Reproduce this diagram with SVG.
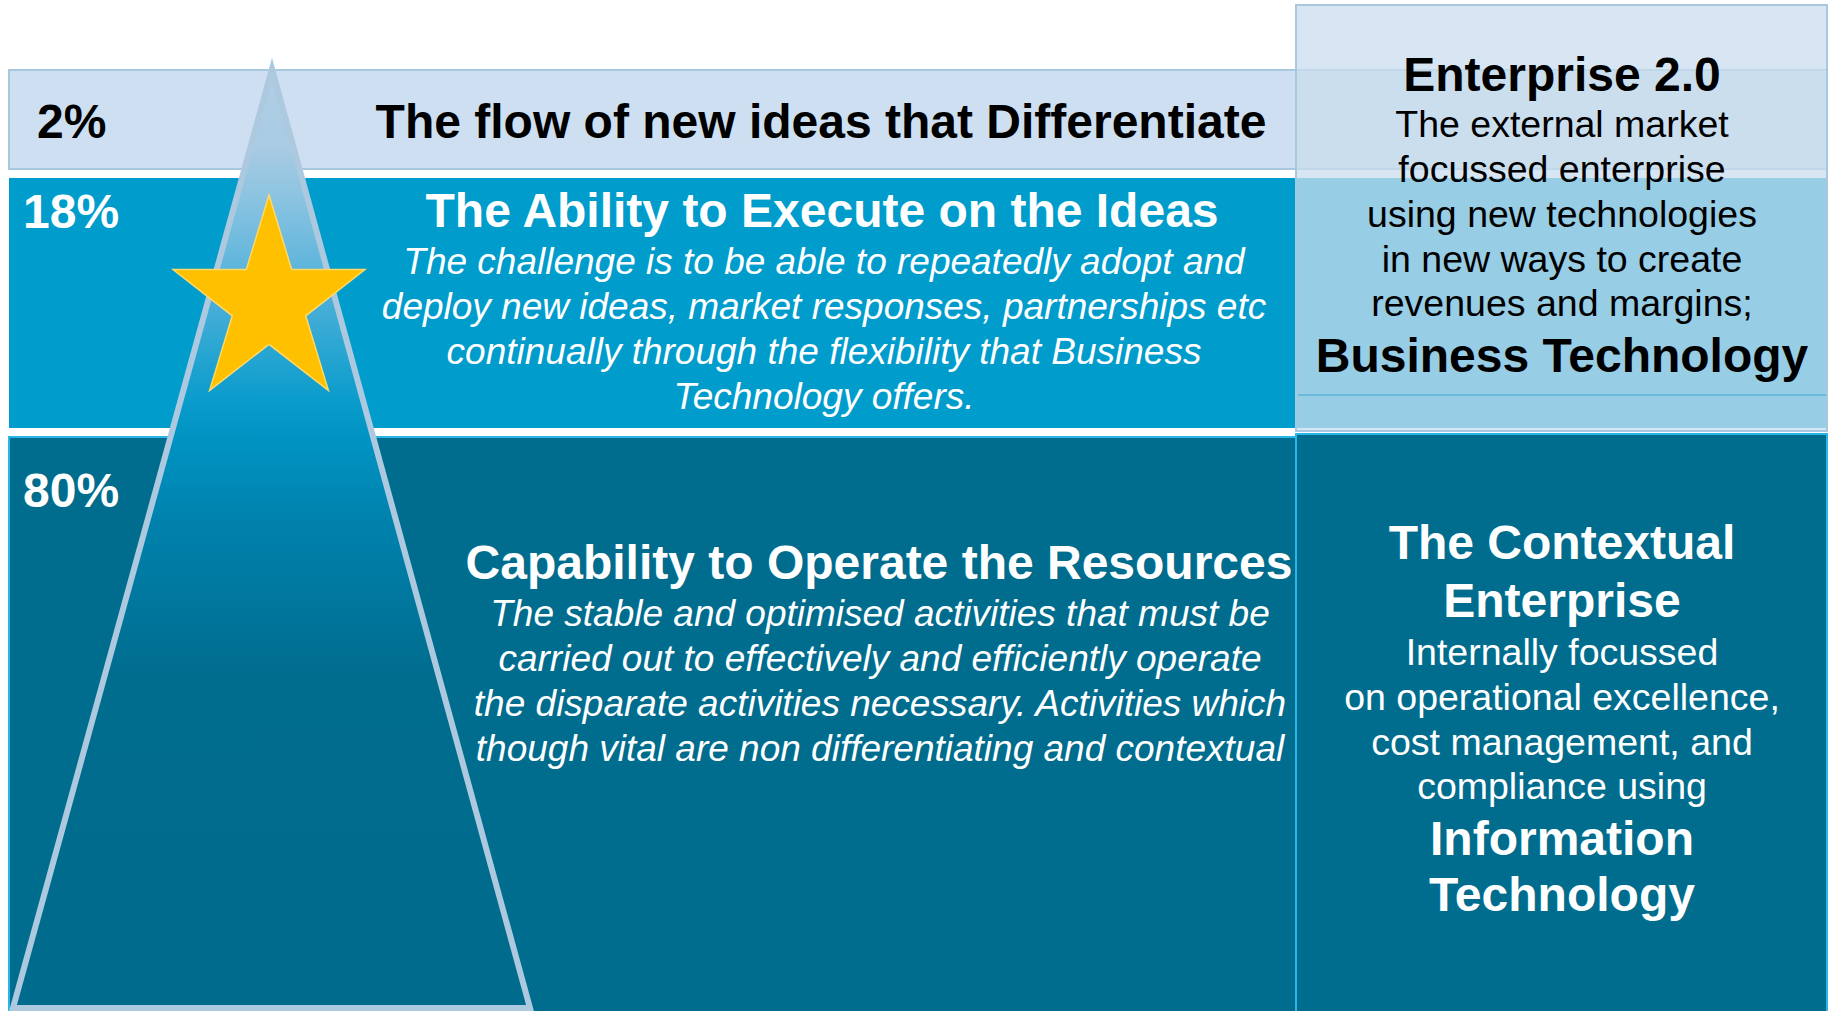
<svg xmlns="http://www.w3.org/2000/svg" width="1833" height="1011" viewBox="0 0 1833 1011">
<defs>
<style>
text{font-family:"Liberation Sans",Arial,sans-serif}
.b{font-weight:bold;font-size:48px}
.it{font-style:italic;font-size:37px;fill:#fff}
.r{font-size:37.5px}
.w{fill:#fff}
.k{fill:#000}
.m{text-anchor:middle}
</style>
<linearGradient id="tri" gradientUnits="userSpaceOnUse" x1="0" y1="58" x2="0" y2="1008">
<stop offset="0" stop-color="#b0cfe5"/>
<stop offset="0.094" stop-color="#a9cbe3"/>
<stop offset="0.139" stop-color="#90c5e1"/>
<stop offset="0.223" stop-color="#5db5dc"/>
<stop offset="0.36" stop-color="#0a9ccc"/>
<stop offset="0.402" stop-color="#0093c2"/>
<stop offset="0.486" stop-color="#0082ad"/>
<stop offset="0.655" stop-color="#006c8e"/>
<stop offset="1" stop-color="#006b8c"/>
</linearGradient>
</defs>
<rect width="1833" height="1011" fill="#fff"/>
<g id="band-2">
<rect x="9" y="70" width="1818" height="99" fill="#cddff0" stroke="#a8c8e0" stroke-width="2"/>
</g>
<g id="band-18">
<rect x="9" y="178" width="1818" height="250" fill="#009ccc"/>
</g>
<g id="band-80">
<rect x="9" y="437" width="1818" height="580" fill="#006d8e" stroke="#29b5e8" stroke-width="2"/>
</g>
<g id="panel-enterprise20">
<rect x="1296" y="5" width="531" height="426" fill="#c9deed" fill-opacity="0.75" stroke="#a8c8e0" stroke-width="2"/>
<line x1="1298" y1="395" x2="1826" y2="395" stroke="#5ab4d8" stroke-width="1.5"/>
</g>
<g id="panel-contextual">
<rect x="1296" y="434" width="531" height="580" fill="#006d8e" stroke="#29b5e8" stroke-width="2"/>
</g>
<g id="pyramid">
<polygon points="272,69 13,1008 530,1008" fill="url(#tri)" stroke="#adc9df" stroke-width="6"/>
</g>
<g id="star">
<polygon points="269,195 291.7,269.6 365,269.6 305.7,315.8 328.4,390.4 269,344.3 209.6,390.4 232.3,315.8 173,269.6 246.3,269.6" fill="#ffc000" stroke="#ffd966" stroke-width="1.5"/>
</g>
<g id="connectors"/>
<g id="labels-2">
<text x="37" y="138" class="b k">2%</text>
<text x="821" y="138" class="b k m">The flow of new ideas that Differentiate</text>
</g>
<g id="labels-18">
<text x="23" y="228" class="b w">18%</text>
<text x="822" y="227" class="b w m">The Ability to Execute on the Ideas</text>
<text x="824" y="274" class="it m">The challenge is to be able to repeatedly adopt and</text>
<text x="824" y="319" class="it m">deploy new ideas, market responses, partnerships etc</text>
<text x="824" y="364" class="it m">continually through the flexibility that Business</text>
<text x="824" y="409" class="it m">Technology offers.</text>
</g>
<g id="labels-80">
<text x="23" y="507" class="b w">80%</text>
<text x="879" y="579" class="b w m">Capability to Operate the Resources</text>
<text x="880" y="626" class="it m">The stable and optimised activities that must be</text>
<text x="880" y="671" class="it m">carried out to effectively and efficiently operate</text>
<text x="880" y="716" class="it m">the disparate activities necessary. Activities which</text>
<text x="880" y="761" class="it m">though vital are non differentiating and contextual</text>
</g>
<g id="labels-enterprise20">
<text x="1562" y="91" class="b k m">Enterprise 2.0</text>
<text x="1562" y="137" class="r k m">The external market</text>
<text x="1562" y="182" class="r k m">focussed enterprise</text>
<text x="1562" y="227" class="r k m">using new technologies</text>
<text x="1562" y="272" class="r k m">in new ways to create</text>
<text x="1562" y="316" class="r k m">revenues and margins;</text>
<text x="1562" y="372" class="b k m">Business Technology</text>
</g>
<g id="labels-contextual">
<text x="1562" y="559" class="b w m">The Contextual</text>
<text x="1562" y="617" class="b w m">Enterprise</text>
<text x="1562" y="665" class="r w m">Internally focussed</text>
<text x="1562" y="710" class="r w m">on operational excellence,</text>
<text x="1562" y="755" class="r w m">cost management, and</text>
<text x="1562" y="799" class="r w m">compliance using</text>
<text x="1562" y="855" class="b w m">Information</text>
<text x="1562" y="911" class="b w m">Technology</text>
</g>
</svg>
